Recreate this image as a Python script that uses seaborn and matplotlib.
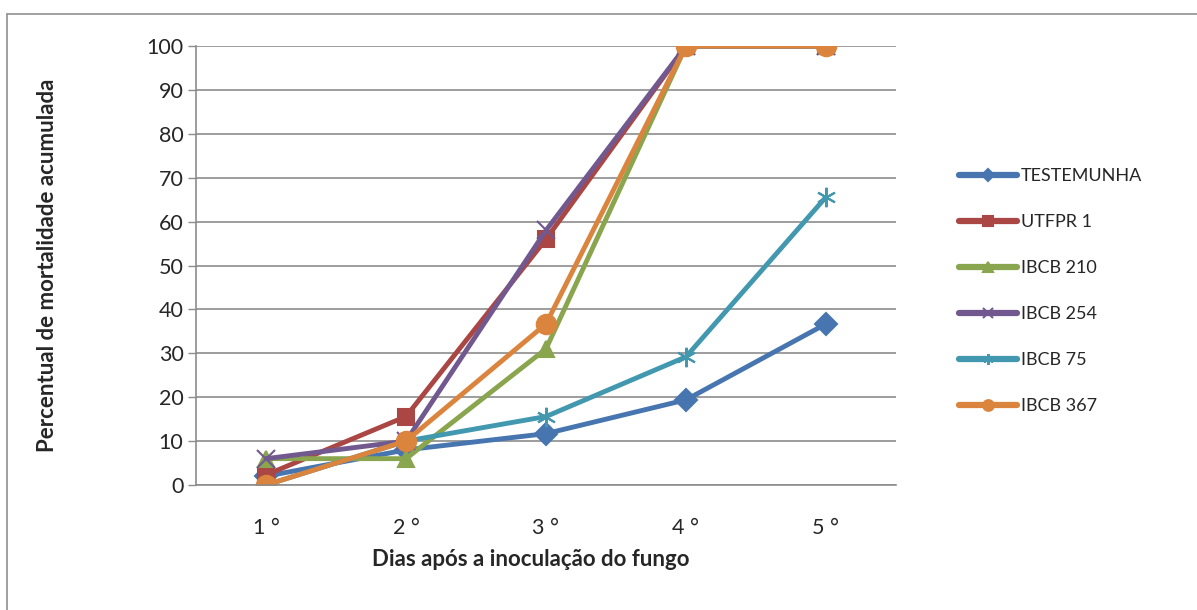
import pandas as pd
import seaborn as sns
import matplotlib.pyplot as plt
from matplotlib.lines import Line2D

# dias após a inoculação
dias = ['1 °', '2 °', '3 °', '4 °', '5 °']
testemunha = [2, 8, 11.7, 19.4, 36.7]
utfpr_1 = [2.3, 15.6, 56, 100, 100]
ibcb_210 = [6, 6, 31, 100, 100]
ibcb_254 = [6, 10, 58, 100, 100]
ibcb_75 = [0, 10, 15.6, 29.2, 65.6]
ibcb_367 = [0, 10, 36.7, 100, 100]

series = {
    'TESTEMUNHA': testemunha,
    'UTFPR 1': utfpr_1,
    'IBCB 210': ibcb_210,
    'IBCB 254': ibcb_254,
    'IBCB 75': ibcb_75,
    'IBCB 367': ibcb_367,
}
cores = ['#4675B0', '#AA4643', '#89A54E', '#71588F', '#4198AF', '#DB843D']
marcadores = ['D', 's', '^', 'x', (6, 2, 0), 'o']
tamanhos = [11, 12, 12, 13, 14, 14]

sns.set_style('white')
plt.rcParams['font.family'] = ['Lato', 'DejaVu Sans']

fig = plt.figure(figsize=(11.97, 6.10), dpi=100)
ax = fig.add_axes([196 / 1197, 1 - 485 / 610, 700 / 1197, 439 / 610])

for (nome, vals), cor, mk, ms in zip(series.items(), cores, marcadores, tamanhos):
    df = pd.DataFrame({'x': range(len(dias)), 'y': vals})
    sns.lineplot(data=df, x='x', y='y', ax=ax, color=cor, marker=mk,
                 markersize=ms, markeredgecolor=cor, markeredgewidth=1.5,
                 linewidth=3.5, label=nome, solid_capstyle='round')

ax.set_xlim(-0.5, 4.5)
ax.set_ylim(0, 100)
ax.set_xticks(range(len(dias)))
ax.set_xticklabels(dias, fontsize=15.5)
ax.set_yticks(range(0, 101, 10))
ax.tick_params(axis='y', labelsize=15.5, length=6, width=1, color='#8c8c8c',
               direction='out', left=True, pad=3)
ax.tick_params(axis='x', length=0, pad=24)
ax.yaxis.grid(True, color='#8c8c8c', linewidth=1.2)
ax.set_axisbelow(True)
for s in ['top', 'right']:
    ax.spines[s].set_visible(False)
ax.spines['left'].set_color('#8c8c8c')
ax.spines['bottom'].set_color('#8c8c8c')
ax.spines['left'].set_linewidth(1.2)
ax.spines['bottom'].set_linewidth(1.2)
ax.set_xlabel('')
ax.set_ylabel('')

fig.text(531 / 1197, 1 - 560 / 610, 'Dias após a inoculação do fungo',
         ha='center', va='center', fontsize=16, fontweight='bold')
fig.text(48 / 1197, 1 - 265 / 610, 'Percentual de mortalidade acumulada',
         ha='center', va='center', rotation=90, fontsize=16, fontweight='bold')

leg = ax.legend(loc='upper left', bbox_to_anchor=(943 / 1197, 1 - 152 / 610),
                bbox_transform=fig.transFigure, frameon=False, fontsize=13,
                handlelength=3.2, handletextpad=0.2, labelspacing=1.66,
                markerscale=0.55)
for h in leg.get_lines():
    h.set_linewidth(4.5)

# moldura
fig.add_artist(Line2D([7 / 1197, 7 / 1197], [0, 1 - 14 / 610], color='#999999',
                      linewidth=1.3, transform=fig.transFigure))
fig.add_artist(Line2D([7 / 1197, 1], [1 - 14 / 610, 1 - 14 / 610], color='#999999',
                      linewidth=1.3, transform=fig.transFigure))

fig.savefig('out.png', dpi=100)
